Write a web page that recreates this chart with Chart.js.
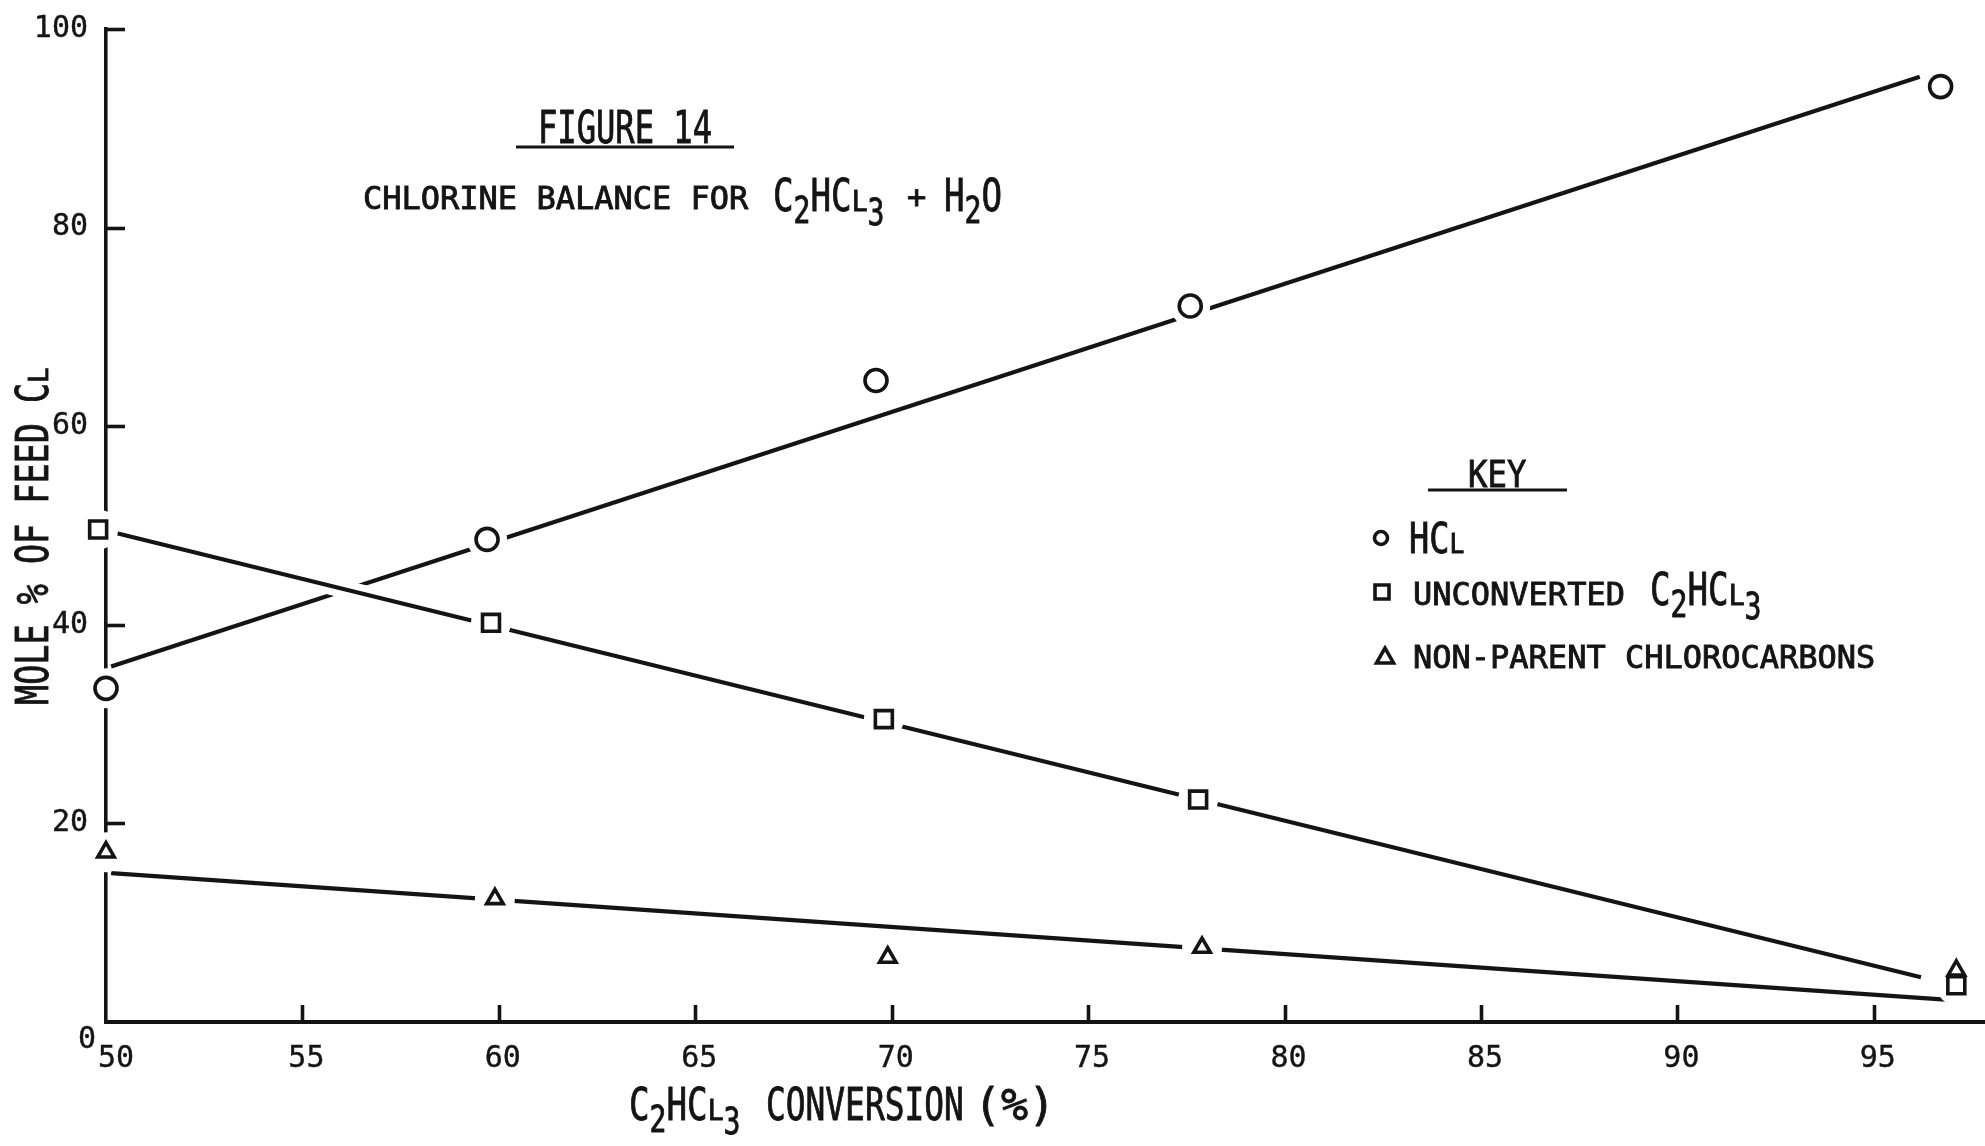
<!DOCTYPE html>
<html>
<head>
<meta charset="utf-8">
<title>Figure 14 - Chlorine balance for C2HCl3 + H2O</title>
<script src="https://cdn.jsdelivr.net/npm/chart.js@4.4.1/dist/chart.umd.min.js"></script>
<style>
  html, body { margin: 0; padding: 0; background: #ffffff; }
  #wrap { width: 1985px; height: 1146px; position: relative; }
</style>
</head>
<body>
<div id="wrap"><canvas id="chart" width="1985" height="1146"></canvas></div>
<script>
// C2HCl3 conversion (%) and mole % of feed Cl found as each product
const hclConversion = [50.0, 59.7, 69.6, 77.6, 96.7];
const hclMolePct = [33.6, 48.6, 64.6, 72.1, 94.2];
const unconvertedConversion = [49.8, 59.8, 69.8, 77.8, 97.1];
const unconvertedMolePct = [49.6, 40.2, 30.5, 22.4, 3.7];
const nonParentConversion = [50.0, 59.9, 69.9, 77.9, 97.1];
const nonParentMolePct = [17.1, 12.4, 6.5, 7.5, 5.2];

// End points of the straight lines drawn through each set
const hclFitConversion = [50.13, 96.17];
const hclFitMolePct = [35.8, 95.2];
const unconvertedFitConversion = [50.2, 96.2];
const unconvertedFitMolePct = [49.3, 4.5];
const nonParentFitConversion = [50.13, 97.0];
const nonParentFitMolePct = [15.0, 2.2];

// Axis ticks
const xTickValues = [50, 55, 60, 65, 70, 75, 80, 85, 90, 95];
const yTickValues = [0, 20, 40, 60, 80, 100];

const INK = '#141414';
const MONO = '"DejaVu Sans Mono", "Liberation Mono", monospace';
const TALL = 0.76; // horizontal squeeze for the tall lettering

const pts = (xs, ys) => xs.map((x, i) => ({ x, y: ys[i] }));

function fitLine(label, xs, ys, color, width, order) {
  return {
    label, data: pts(xs, ys), showLine: true, borderColor: color, borderWidth: width,
    pointRadius: 0, pointHoverRadius: 0, order, clip: false, borderCapStyle: 'butt'
  };
}
function halo(label, xs, ys) {
  return {
    label, data: pts(xs, ys), showLine: false, pointStyle: 'circle', pointRadius: 20,
    pointBackgroundColor: '#ffffff', pointBorderColor: '#ffffff', pointBorderWidth: 0,
    order: 2, clip: false
  };
}
function markers(label, xs, ys, style, radius) {
  return {
    label, data: pts(xs, ys), showLine: false, pointStyle: style, pointRadius: radius,
    pointBackgroundColor: '#ffffff', pointBorderColor: INK, pointBorderWidth: 3.6,
    order: 1, clip: false
  };
}

// ---- text helpers -------------------------------------------------------
function put(ctx, text, x, y, size, sx = 1, dy = 0, align = 'left', base = 'alphabetic', weight = 0.9) {
  ctx.save();
  ctx.font = `${size}px ${MONO}`;
  ctx.textAlign = align;
  ctx.textBaseline = base;
  ctx.fillStyle = INK;
  ctx.strokeStyle = INK;
  ctx.lineWidth = weight;
  ctx.translate(x, y + dy);
  ctx.scale(sx, 1);
  ctx.fillText(text, 0, 0);
  if (weight > 0) ctx.strokeText(text, 0, 0);
  const w = ctx.measureText(text).width * sx;
  ctx.restore();
  return w;
}
function runs(ctx, x, y, list) {
  let cx = x;
  list.forEach(r => { cx += put(ctx, r[0], cx, y, r[1], r[2], r[3] || 0); });
  return cx;
}
// C2HCL3 written with subscripts and a small L
function formula(big) {
  return [
    ['C', big, TALL],
    ['2', big * 0.82, TALL, big * 0.26],
    ['HC', big, TALL],
    ['L', big * 0.62, 0.95],
    ['3', big * 0.82, TALL, big * 0.3]
  ];
}
function underline(ctx, x1, x2, y) {
  ctx.save();
  ctx.strokeStyle = INK;
  ctx.lineWidth = 2.8;
  ctx.beginPath(); ctx.moveTo(x1, y); ctx.lineTo(x2, y); ctx.stroke();
  ctx.restore();
}
function keySymbol(ctx, style, x, y, r) {
  ctx.save();
  ctx.strokeStyle = INK;
  ctx.fillStyle = '#ffffff';
  ctx.lineWidth = 3.6;
  ctx.beginPath();
  if (style === 'circle') {
    ctx.arc(x, y, r, 0, Math.PI * 2);
  } else if (style === 'rect') {
    ctx.rect(x - r, y - r, 2 * r, 2 * r);
  } else {
    ctx.moveTo(x, y - r * 1.05);
    ctx.lineTo(x + r, y + r * 0.7);
    ctx.lineTo(x - r, y + r * 0.7);
    ctx.closePath();
  }
  ctx.fill();
  ctx.stroke();
  ctx.restore();
}

// Inward tick marks and typed tick labels on both axes
const axisTicks = {
  id: 'axisTicks',
  beforeDatasetsDraw(chart) {
    const { ctx, scales: { x, y }, chartArea: a } = chart;
    ctx.save();
    ctx.strokeStyle = INK;
    ctx.lineWidth = 3.6;
    yTickValues.filter(v => v > 0).forEach(v => {
      const py = Math.round(y.getPixelForValue(v)) + 0.5;
      ctx.beginPath(); ctx.moveTo(a.left, py); ctx.lineTo(a.left + 19, py); ctx.stroke();
    });
    xTickValues.filter(v => v > 50).forEach(v => {
      const px = Math.round(x.getPixelForValue(v)) + 0.5;
      ctx.beginPath(); ctx.moveTo(px, a.bottom); ctx.lineTo(px, a.bottom - 17); ctx.stroke();
    });
    ctx.restore();

    // tick labels
    xTickValues.forEach((v, i) => {
      put(ctx, String(v), x.getPixelForValue(v) + (i === 0 ? 10 : 4), a.bottom + 37, 30, 1, 0, 'center', 'middle', 0.4);
    });
    yTickValues.forEach(v => {
      if (v === 0) {
        put(ctx, '0', a.left - 28, y.getPixelForValue(0) + 26, 30, 1, 0, 'left', 'alphabetic', 0.4);
      } else {
        put(ctx, String(v), a.left - 18, y.getPixelForValue(v), 30, 1, 0, 'right', 'middle', 0.4);
      }
    });
  }
};

// Heading, axis titles and key
const annotations = {
  id: 'annotations',
  afterDraw(chart) {
    const { ctx } = chart;
    ctx.save();

    // heading
    put(ctx, 'FIGURE 14', 538, 143, 44, 0.73);
    underline(ctx, 516, 734, 147);
    put(ctx, 'CHLORINE BALANCE FOR', 363, 209, 32);
    runs(ctx, 773, 211, formula(45));
    put(ctx, '+', 907, 208, 32);
    runs(ctx, 944, 211, [['H', 45, TALL], ['2', 37, TALL, 12], ['O', 45, TALL]]);

    // y-axis title
    ctx.save();
    ctx.translate(48, 705);
    ctx.rotate(-Math.PI / 2);
    runs(ctx, 0, 0, [['MOLE % OF FEED C', 44, TALL], ['L', 27, 0.95]]);
    ctx.restore();

    // x-axis title
    runs(ctx, 629, 1120, formula(45));
    put(ctx, 'CONVERSION', 766, 1120, 45, 0.73);
    put(ctx, '(%)', 974, 1120, 45, 1.0);

    // key
    put(ctx, 'KEY', 1468, 487, 38, 0.85);
    underline(ctx, 1428, 1567, 490);
    keySymbol(ctx, 'circle', 1381, 538, 6.5);
    runs(ctx, 1409, 553, [['HC', 42, 0.8], ['L', 26, 0.95]]);
    keySymbol(ctx, 'rect', 1382, 592, 7);
    put(ctx, 'UNCONVERTED', 1413, 605, 32);
    runs(ctx, 1650, 605, formula(45));
    keySymbol(ctx, 'triangle', 1385, 657, 8.5);
    put(ctx, 'NON-PARENT CHLOROCARBONS', 1413, 668, 32);

    ctx.restore();
  }
};

new Chart(document.getElementById('chart'), {
  type: 'scatter',
  data: {
    datasets: [
      fitLine('HCL line', hclFitConversion, hclFitMolePct, INK, 4.2, 6),
      fitLine('Non-parent line', nonParentFitConversion, nonParentFitMolePct, INK, 4.2, 6),
      fitLine('Unconverted line break', unconvertedFitConversion, unconvertedFitMolePct, '#ffffff', 18, 5),
      fitLine('Unconverted line', unconvertedFitConversion, unconvertedFitMolePct, INK, 4.2, 4),
      halo('HCL gap', hclConversion, hclMolePct),
      halo('Unconverted gap', unconvertedConversion, unconvertedMolePct),
      halo('Non-parent gap', nonParentConversion, nonParentMolePct),
      markers('HCL', hclConversion, hclMolePct, 'circle', 11),
      markers('UNCONVERTED C2HCL3', unconvertedConversion, unconvertedMolePct, 'rect', 12),
      markers('NON-PARENT CHLOROCARBONS', nonParentConversion, nonParentMolePct, 'triangle', 9.5)
    ]
  },
  options: {
    responsive: false,
    animation: false,
    events: [],
    layout: { autoPadding: false, padding: { top: 29, left: 0, right: 0, bottom: 0 } },
    plugins: { legend: { display: false }, tooltip: { enabled: false }, title: { display: false } },
    scales: {
      x: {
        type: 'linear', position: 'bottom', min: 50, max: 97.83,
        afterBuildTicks: s => { s.ticks = xTickValues.map(v => ({ value: v })); },
        afterFit: s => { s.height = 124; s.paddingLeft = 0; s.paddingRight = 0; },
        grid: { display: true, drawOnChartArea: false, drawTicks: false },
        border: { display: true, color: INK, width: 4 },
        ticks: { display: false }
      },
      y: {
        type: 'linear', position: 'left', min: 0, max: 100,
        afterBuildTicks: s => { s.ticks = yTickValues.map(v => ({ value: v })); },
        afterFit: s => { s.width = 106; s.paddingTop = 0; s.paddingBottom = 0; },
        grid: { display: true, drawOnChartArea: false, drawTicks: false },
        border: { display: true, color: INK, width: 3.6 },
        ticks: { display: false }
      }
    }
  },
  plugins: [axisTicks, annotations]
});
</script>
</body>
</html>
